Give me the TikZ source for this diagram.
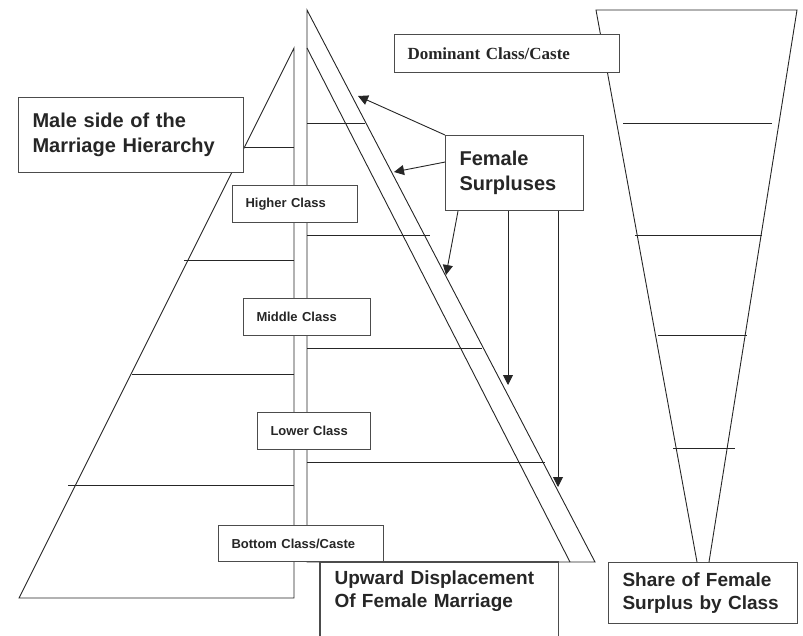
\documentclass[tikz,border=0pt]{standalone}
\usepackage{fontspec}
\setmainfont{Liberation Sans}
\newfontfamily\timesfont{Liberation Serif}
\usetikzlibrary{arrows.meta}

\tikzset{
  box/.style={draw=black!70, line width=1.1pt, fill=white, anchor=north west, align=left, inner xsep=13pt},
  classbox/.style={box, minimum height=37pt, font=\fontsize{13}{15}\selectfont\bfseries},
  bigbox/.style={box, inner xsep=14pt, font=\fontsize{20}{25}\selectfont\bfseries},
  legendbox/.style={box, inner xsep=14pt, font=\fontsize{19}{23}\selectfont\bfseries},
  surplus/.style={-{Triangle[length=10pt,width=10pt]}}
}

\begin{document}
\begin{tikzpicture}[x=1pt,y=-1pt,line width=0.9pt,color=black!85]
  \useasboundingbox (0,0) rectangle (803,635);
  \draw (294,48) -- (19,598) -- (294,598) -- cycle;
  \draw (245,147) -- (294,147);
  \draw (184,260) -- (294,260);
  \draw (132,374) -- (294,374);
  \draw (68,485) -- (294,485);
  \draw (307,10) -- (595,562) -- (307,562) -- cycle;
  \draw (307,48) -- (570,562);
  \draw (307,123) -- (365,123);
  \draw (307,235) -- (430,235);
  \draw (307,348) -- (482,348);
  \draw (307,462) -- (545,462);
  \draw (697,562) -- (596,10) -- (797,10) -- (709,562);
  \draw (623,123) -- (772,123);
  \draw (635,235) -- (762,235);
  \draw (658,335) -- (747,335);
  \draw (673,448) -- (735,448);

  \node[bigbox, text width=197pt, minimum height=75pt] (male) at (18,97) {Male side of the\\Marriage Hierarchy};
  \node[box, text width=199pt, minimum height=38pt, font=\timesfont\fontsize{17}{20}\selectfont\bfseries] (dominant) at (394,34) {Dominant Class/Caste};
  \node[classbox, text width=99pt] (higher) at (232,185) {Higher Class};
  \node[classbox, text width=101pt] (middle) at (243,298) {Middle Class};
  \node[classbox, text width=87pt] (lower) at (257,412) {Lower Class};
  \node[classbox, text width=139pt, minimum height=36pt] (bottom) at (218,525) {Bottom Class/Caste};
  \node[bigbox, text width=110pt, minimum height=75pt] (female) at (445,135) {Female\\Surpluses};
  \node[legendbox, draw=none, fill=none, text width=209pt, inner ysep=8pt] (upward) at (320,562) {Upward Displacement\\Of Female Marriage};
  \draw[draw=black!70, line width=1.1pt] (upward.north west |- 0,640) -- (upward.north west) -- (upward.north east) -- (upward.north east |- 0,640);
  \node[legendbox, text width=161pt, minimum height=61pt] (share) at (608,562) {Share of Female\\Surplus by Class};

  \coordinate (d1) at (358,96);
  \coordinate (d2) at (394,172);
  \coordinate (d3) at (446,275);
  \coordinate (d4) at (508,385);
  \coordinate (d5) at (558,487);
  \draw[surplus] (female.north west) -- (d1);
  \draw[surplus] ([yshift=11pt]female.west) -- (d2);
  \draw[surplus] ([xshift=13pt]female.south west) -- (d3);
  \draw[surplus] (female.south -| d4) -- (d4);
  \draw[surplus] (female.south -| d5) -- (d5);
\end{tikzpicture}
\end{document}
